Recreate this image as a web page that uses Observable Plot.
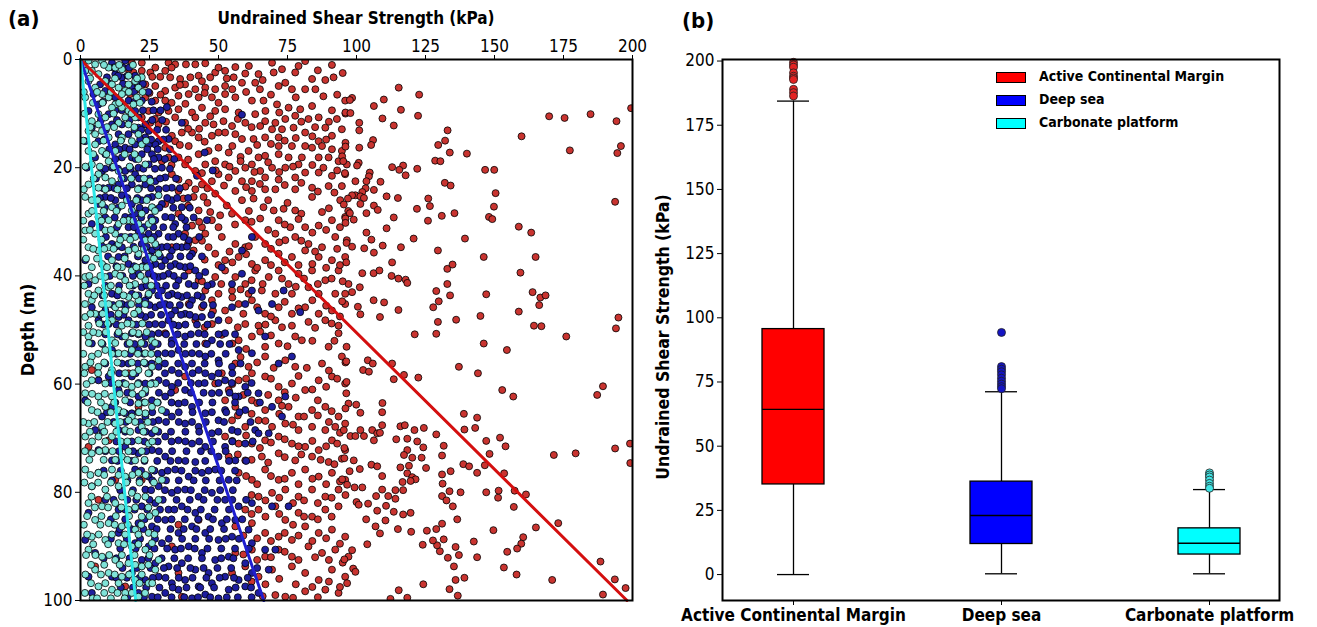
<!DOCTYPE html>
<html>
<head>
<meta charset="utf-8">
<script src="https://cdn.jsdelivr.net/npm/d3@7"></script>
<script src="https://cdn.jsdelivr.net/npm/@observablehq/plot@0.6"></script>
<style>
  body { margin:0; width:1317px; height:627px; position:relative; background:#fff; overflow:hidden;
         font-family:"DejaVu Sans Condensed","DejaVu Sans",sans-serif; color:#000; }
  .lbl { position:absolute; white-space:nowrap; font-weight:bold; }
  .sw { position:absolute; width:30px; height:11px; border:1px solid #000; box-sizing:border-box; }
</style>
</head>
<body>
<div id="pa" style="position:absolute;left:0;top:0"></div>
<div id="pb" style="position:absolute;left:640px;top:0"></div>

<div class="lbl" style="left:8px;top:6px;font-size:22px">(a)</div>
<div class="lbl" style="left:356px;top:8px;font-size:17px;transform:translateX(-50%)">Undrained Shear Strength (kPa)</div>
<div class="lbl" style="left:27px;top:330px;font-size:18px;transform:translate(-50%,-50%) rotate(-90deg)">Depth (m)</div>
<div class="lbl" style="left:682px;top:8px;font-size:22px">(b)</div>
<div class="lbl" style="left:663px;top:337px;font-size:17.5px;transform:translate(-50%,-50%) rotate(-90deg)">Undrained Shear Strength (kPa)</div>

<div class="sw" style="left:996px;top:72px;background:#ff0000"></div>
<div class="lbl" style="left:1039px;top:68px;font-size:14px">Active Continental Margin</div>
<div class="sw" style="left:996px;top:95px;background:#0000ff"></div>
<div class="lbl" style="left:1039px;top:91px;font-size:14px">Deep sea</div>
<div class="sw" style="left:996px;top:118px;background:#00ffff"></div>
<div class="lbl" style="left:1039px;top:114px;font-size:14px">Carbonate platform</div>

<script>
// ---------- Panel (a): [undrained shear strength kPa, depth m] ----------
const acmPoints = [
[31.9,0.6],[34.3,0.9],[38.2,0.9],[41.6,0.9],[45.2,0.7],[56.1,1.4],[69.4,0.6],[81.4,0.3],[91.1,1.0],[77.8,2.4],[70.0,2.4],[64.5,2.7],[59.7,2.6],[55.5,3.3],[52.4,2.1],[48.8,2.4],[47.0,3.3],[42.8,3.0],[39.8,3.3],[36.1,3.6],[32.5,3.3],[28.9,3.2],[25.3,2.4],[22.2,2.1],[19.2,2.4],[17.4,1.8],[18.6,0.6],[22.2,0.6],[27.1,1.5],[30.7,2.1],[74.2,4.3],[83.9,3.6],[88.7,3.8],[91.7,3.3],[85.1,5.5],[81.4,5.5],[76.6,5.5],[71.8,4.9],[63.3,4.3],[58.5,4.3],[52.4,4.9],[48.8,5.5],[45.2,5.2],[41.6,5.5],[37.9,4.6],[34.3,5.2],[30.7,5.8],[27.1,4.9],[23.5,4.6],[21.0,5.5],[18.0,6.4],[23.5,7.0],[27.1,7.6],[30.7,7.6],[35.5,6.7],[39.2,6.4],[42.8,7.0],[47.6,7.0],[52.4,6.4],[56.1,7.0],[62.1,7.6],[66.3,7.6],[71.2,8.3],[75.4,8.9],[79.6,9.2],[83.9,8.6],[91.1,9.4],[95.9,7.6],[86.3,10.7],[82.6,11.0],[77.8,10.4],[74.2,11.0],[70.6,11.7],[66.9,11.4],[63.3,10.1],[57.3,9.8],[52.4,9.2],[48.8,9.5],[44.0,8.9],[40.4,9.8],[35.5,9.2],[31.9,9.5],[28.3,9.8],[24.7,9.5],[22.2,10.7],[25.3,11.7],[28.3,12.0],[34.3,10.7],[37.9,11.7],[41.6,10.7],[45.2,11.7],[48.2,12.0],[51.8,11.4],[54.9,12.3],[59.7,11.7],[65.1,12.3],[69.4,12.9],[73.0,12.9],[77.2,12.6],[81.4,13.5],[88.7,12.6],[92.9,11.0],[94.7,12.9],[91.1,14.1],[86.3,15.1],[83.9,16.3],[81.4,16.0],[76.6,16.0],[71.8,16.0],[71.8,14.4],[66.9,14.4],[62.7,14.7],[58.5,14.7],[56.1,13.8],[52.4,13.5],[47.6,14.1],[42.8,14.4],[40.4,13.5],[36.7,13.5],[33.1,14.1],[30.7,16.3],[34.3,15.1],[39.2,16.0],[42.8,17.5],[46.4,16.9],[50.0,16.3],[53.7,17.2],[60.9,16.9],[64.5,18.1],[62.1,19.4],[66.9,17.8],[71.8,17.5],[75.4,18.1],[80.2,18.1],[86.3,18.1],[89.9,18.1],[93.5,18.8],[96.5,19.4],[94.7,16.9],[91.1,16.6],[87.5,16.0],[79.0,19.4],[74.2,20.0],[69.4,20.0],[65.1,20.6],[59.7,20.0],[56.1,20.6],[52.4,19.4],[48.8,18.8],[45.2,19.4],[41.6,20.6],[37.9,19.4],[35.5,18.1],[31.9,18.1],[29.5,18.8],[81.4,20.9],[86.3,20.9],[91.1,21.5],[95.9,21.2],[77.8,21.8],[71.8,22.2],[66.9,21.8],[62.1,22.5],[58.5,22.5],[53.7,21.8],[50.0,21.2],[47.6,22.5],[44.0,23.1],[39.2,22.8],[35.5,22.2],[33.1,21.2],[70.6,24.0],[66.9,24.0],[62.1,24.3],[77.8,24.0],[83.9,23.7],[89.9,23.4],[94.7,23.4],[41.6,24.0],[35.5,24.3],[56.1,24.3],
[20,4],[26,3.2],[33,1.5],[36,4.7],[44,4],[50,1.5],[53,3.5],[61,1.2],[66,3.8],[73,1.8],[79,1.2],[86,2],[95,2.5],[25,6.2],[29,6.5],[33,8],[38,8.2],[45,6.2],[50,8],[55,5.5],[60,6],[65,5.5],[69,6.5],[78,7],[88,6.8],[93,6.5],[27,11],[31,11.5],[39,12.8],[43,12.8],[47,10.5],[50,13.5],[57,11],[62,12.5],[67,9.5],[72,9.8],[80,11.5],[85,12.5],[90,11.5],[96,10],[36,15.8],[45,15.2],[55,16],[58,18],[64,15.8],[69,15.6],[74,15],[78,14.5],[84,14.2],[89,14.8],[96,15.4],[33,19.5],[39,18.5],[44,21],[49,20.5],[54,19.8],[58,18.8],[63,20.8],[68,19],[72,20.8],[77,19.8],[84,19.5],[88,20],[93,20.5],[38,23.5],[46,23.8],[52,23.3],[60,23.6],[65,23],[74,23.2],[80,22.8],[86,24.4],[92,24.6],
[37.3,25.7],[41.0,25.4],[44.6,25.4],[48.8,24.8],[58.5,26.0],[62.7,25.7],[66.3,27.3],[70.0,27.9],[73.6,27.6],[77.8,27.9],[83.9,25.4],[87.5,28.2],[94.1,26.0],[42.8,27.9],[47.0,28.2],[50.6,28.8],[54.9,28.5],[59.7,29.7],[65.1,29.4],[71.8,29.7],[76.0,31.0],[81.4,31.0],[86.3,30.7],[91.1,29.7],[95.9,29.1],[40.4,30.7],[44.0,31.0],[47.6,29.7],[37.9,32.2],[41.6,33.4],[45.2,32.2],[51.2,32.8],[56.1,34.1],[59.7,34.7],[63.3,32.8],[66.9,34.1],[70.6,32.2],[74.2,33.4],[77.8,32.8],[82.6,34.1],[87.5,34.7],[92.3,32.8],[96.5,33.4],[48.8,35.9],[52.4,37.1],[57.3,36.5],[62.1,37.8],[66.9,37.1],[71.8,35.9],[76.6,36.5],[81.4,35.3],[86.3,36.5],[91.1,37.1],[95.9,36.5],[41.0,35.3],[46.4,34.7],[39.2,39.0],[42.8,40.8],[45.2,42.7],[48.8,40.2],[52.4,39.0],[56.1,40.2],[59.7,41.5],[63.3,39.0],[68.2,40.2],[71.8,39.0],[75.4,41.5],[79.0,39.6],[83.9,39.0],[88.7,40.8],[93.5,39.0],[97.1,41.5],[50.0,43.3],[54.9,42.7],[60.9,43.3],[65.7,42.7],[70.6,43.3],[76.6,43.3],[82.6,42.1],[86.3,43.3],[92.3,43.3],[95.9,43.3],[39.2,45.2],[44.0,45.8],[47.6,44.5],[52.4,46.4],[57.3,45.2],[62.1,44.5],[66.9,47.0],[71.8,45.8],[76.6,47.0],[81.4,45.8],[86.3,47.0],[91.1,46.4],[95.9,45.2],[41.6,48.2],[47.6,48.9],[53.7,48.2],[59.7,48.9],[64.5,49.2],[70.6,48.2],[76.6,49.2],[82.6,48.5],[88.7,48.2],[93.5,49.2],[30.7,26.7],[35.5,28.5],[33.1,34.7],
[39,27],[46,26.5],[53,27],[61,28],[68,26],[75,26.5],[80,28.5],[90,27.5],[97,28],[43,30],[50,31],[56,30.5],[62,30],[68,31.5],[74,30.5],[79,29.5],[84,32],[89,31.5],[94,31],[39,34],[44,33.5],[54,35.5],[61,34.5],[69,35],[72,33.8],[80,33.5],[85,35.5],[93,35],[45,37],[50,38],[55,37.5],[60,36],[64,38.5],[69,38],[74,37.5],[79,38],[84,37.8],[89,38.5],[94,38],[44,41],[51,41.5],[58,42.5],[62,40.8],[66,41.5],[73,40.5],[78,42],[81,40.5],[86,41.5],[91,40.5],[95,41],[48,46.5],[55,44],[59,47],[64,45.8],[69,47.5],[74,44.8],[79,46],[84,44.5],[89,45.5],[94,47.5],[45,49.5],[57,49.5],[67,49],[73,49.5],[85,49.6],[91,48.8],
[51.2,50.9],[57.3,51.9],[62.1,51.2],[65.1,50.3],[66.9,53.1],[71.8,52.5],[77.8,51.2],[80.2,51.9],[89.9,53.1],[93.5,50.6],[94.7,54.9],[87.5,56.2],[77.8,56.8],[74.2,55.6],[66.9,54.9],[60.9,56.8],[56.1,56.2],[51.2,58.0],[48.8,59.9],[53.7,61.1],[57.3,59.3],[62.1,58.0],[66.9,58.6],[71.8,60.5],[76.6,59.9],[81.4,61.1],[86.3,59.3],[91.1,58.6],[95.9,59.9],[52.4,63.0],[56.1,64.2],[62.1,63.0],[66.9,64.8],[71.8,63.0],[75.4,64.2],[79.0,66.0],[83.9,64.8],[88.7,64.2],[93.5,66.0],[97.1,63.6],[54.9,66.7],[59.7,67.9],[64.5,66.7],[69.4,67.9],[74.2,67.3],[79.0,68.5],[83.9,67.9],[88.7,68.5],[92.3,67.9],[95.9,67.3],[52.4,69.7],[57.3,71.0],[62.1,71.0],[66.9,70.4],[71.8,69.7],[76.6,71.0],[81.4,71.6],[86.3,72.2],[91.1,70.4],[95.9,72.2],[53.7,73.4],[59.7,74.1],[65.7,73.4],[71.8,72.8],[77.8,74.1],[83.9,73.4],[89.9,74.4],[94.7,73.8],[37.9,58.6],[34.3,61.1],[45.2,52.5],[30.7,50.6],[4.1,57.4],[2.9,71.6],[10.2,70.4],[21.0,64.2],[17.4,58.0],
[55,52.5],[60,53.5],[69,51],[75,53],[84,52],[92,52],[58,55],[64,56],[70,57],[82,57],[90,57.5],[96,56],[55,60],[60,59],[69,59],[74,61.5],[79,58.5],[84,61],[89,60.5],[93,59],[59,62],[64,63.5],[68,62],[73,64],[78,62.5],[86,63],[91,65],[96,64.5],[57,65.8],[62,65.5],[67,66.8],[72,65.5],[77,67.5],[81,66],[86,65.8],[90,67],[94,69],[55,70.5],[60,69.5],[65,71.8],[69,70.8],[74,70.2],[79,71.5],[84,70.5],[89,71.5],[93,71],[57,73],[62,74],[68,74.5],[74,73.5],[80,73],[87,74],[92,74.8],
[57.3,76.4],[62.1,77.7],[66.9,75.8],[71.8,77.7],[76.6,76.4],[81.4,75.8],[86.3,77.1],[91.1,76.4],[95.9,77.7],[64.5,80.8],[69.4,80.1],[74.2,79.5],[79.0,80.8],[83.9,79.5],[88.7,80.8],[93.5,79.5],[59.7,83.2],[64.5,83.2],[70.6,82.6],[74.2,85.1],[79.0,83.8],[83.9,84.5],[88.7,83.2],[93.5,82.6],[56.1,86.3],[62.1,85.7],[66.9,87.5],[71.8,88.2],[76.6,88.8],[81.4,86.3],[86.3,87.5],[91.1,86.9],[95.9,88.2],[56.1,91.2],[62.1,90.6],[66.9,91.9],[71.8,90.6],[76.6,91.9],[82.6,90.0],[87.5,91.2],[92.3,90.6],[97.1,91.9],[54.9,94.9],[59.7,93.7],[64.5,95.6],[69.4,94.3],[76.6,93.7],[81.4,94.9],[86.3,96.2],[91.1,94.3],[95.9,95.6],[70.6,99.0],[74.2,99.3],[81.4,98.3],[88.7,98.0],[93.5,98.6],[35.5,86.0],[33.1,90.0],[35.5,94.9],[42.8,85.1],[36.7,99.3],[22.2,77.7],[12.6,77.7],[5.3,93.7],[16.2,97.4],[6.5,81.4],
[60,77],[64,78.5],[69,77],[74,77.5],[79,78.5],[84,77.5],[89,78.5],[94,78],[62,80.5],[67,81.5],[72,81],[77,82],[81,81.5],[86,82],[91,81],[96,80.5],[62,84],[67,84.5],[72,84],[77,86],[81,84.5],[86,85],[91,84.5],[59,88],[64,88.5],[69,89],[74,87.5],[79,88],[84,89],[89,88.5],[94,89.5],[59,91.5],[64,92.5],[69,92],[74,91],[79,92.5],[85,92],[90,92.5],[95,93],[62,96.5],[67,97],[72,96],[78,97],[84,97.5],[90,96.5],[94,97.5],[66,99.2],[77,99.5],[86,99.4],
[115.3,5.2],[122.7,6.5],[98.4,7.1],[97.6,7.5],[109.9,7.4],[106.3,8.6],[116.1,9.3],[96.0,9.8],[97.8,9.9],[122.3,10.4],[109.4,10.9],[101.0,11.7],[113.5,12.2],[101.0,13.1],[169.8,10.5],[175.4,10.8],[184.8,10.1],[194.2,11.4],[199.5,9.0],[159.8,14.2],[133.0,13.1],[106.0,14.9],[132.1,15.0],[105.3,15.8],[96.0,16.1],[101.0,16.3],[129.6,15.8],[177.3,16.8],[195.8,16.0],[194.5,17.3],[133.8,17.2],[140.0,17.4],[128.5,18.7],[130.4,18.8],[94.8,17.9],[95.2,18.8],[100.8,19.1],[100.2,19.6],[112.9,19.9],[116.9,19.6],[115.5,20.4],[122.0,20.2],[117.8,21.4],[146.6,20.4],[149.9,20.4],[95.8,21.0],[104.8,20.9],[104.5,21.6],[103.6,22.5],[99.6,22.5],[108.7,22.6],[132.0,22.8],[134.1,23.3],[150.4,24.7],[193.7,26.3],[106.3,24.1],[103.3,23.8],[102.1,24.5],[99.6,25.1],[98.4,25.1],[96.9,25.7],[101.4,25.3],[102.7,25.6],[110.9,25.3],[115.0,25.6],[126.0,25.7],[126.6,27.1],[95.4,26.8],[106.3,27.0],[107.7,27.8],[101.4,26.7],[149.8,27.2],[121.9,27.6],[148.0,29.1],[149.2,29.5],[103.6,28.4],[97.6,28.4],[99.0,29.6],[96.0,29.4],[96.0,30.2],[113.5,29.2],[125.9,29.8],[130.9,28.9],[135.5,28.4],[158.8,30.9],[163.3,32.0],[110.9,31.2],[103.6,32.0],[105.4,33.3],[120.7,33.1],[139.3,33.1],[96.4,33.9],[98.4,34.6],[102.8,34.9],[106.3,35.7],[109.5,34.4],[116.1,34.7],[129.5,35.3],[146.1,36.5],[164.9,36.5],[96.3,37.5],[112.9,37.5],[102.1,39.5],[106.2,39.5],[108.3,39.0],[112.7,40.0],[115.2,40.5],[117.8,40.7],[118.4,41.3],[132.9,38.7],[134.8,37.9],[159.4,39.4],[132.9,41.5],[133.9,43.6],[147.0,43.4],[163.8,43.0],[166.6,44.0],[168.5,43.6],[166.2,45.4],[98.4,43.0],[101.2,42.1],[94.8,44.7],[106.2,44.5],[110.0,44.9],[100.5,45.7],[101.4,47.1],[108.5,47.6],[115.2,46.3],[127.8,45.8],[129.8,44.7],[128.9,42.8],[129.5,48.5],[136.1,48.1],[144.9,47.4],[158.8,46.6],[194.9,47.7],[164.3,49.2],[167.0,49.3],[194.0,49.7],
[121.1,50.8],[128.9,50.7],[146.1,52.5],[154.5,53.7],[176.0,51.2],[96.4,53.1],[96.3,55.8],[104.1,55.6],[105.9,56.2],[102.4,57.4],[104.5,57.7],[112.9,56.2],[113.5,59.1],[117.2,58.3],[122.4,58.8],[137.1,56.8],[144.0,58.0],[152.8,61.1],[156.8,62.3],[187.2,62.0],[189.3,60.4],[96.4,59.6],[96.3,61.7],[99.9,63.8],[101.4,65.3],[109.4,63.5],[109.3,65.2],[95.4,68.5],[97.8,69.6],[99.6,69.6],[101.4,68.5],[102.7,69.6],[105.7,68.5],[107.5,69.1],[106.3,70.4],[108.5,69.0],[109.3,67.6],[115.9,67.8],[117.5,67.6],[114.4,70.2],[118.4,70.1],[121.0,68.5],[124.4,68.1],[128.9,69.3],[122.0,70.6],[124.2,71.7],[118.4,72.2],[117.2,73.1],[120.2,73.6],[123.6,73.6],[125.2,75.5],[119.0,75.1],[115.9,75.4],[118.4,76.5],[120.2,77.2],[121.4,77.6],[119.6,77.9],[116.7,78.1],[131.6,71.4],[131.0,73.2],[131.0,76.7],[134.1,76.1],[131.2,78.4],[133.7,79.8],[131.0,80.7],[132.6,81.5],[134.9,82.6],[137.7,80.0],[138.9,65.5],[143.7,66.2],[139.1,68.4],[143.0,68.1],[147.0,70.5],[152.0,69.9],[154.0,71.5],[148.2,72.9],[138.7,74.8],[140.8,75.2],[143.7,76.4],[146.5,75.0],[147.0,80.0],[151.5,79.7],[151.3,81.0],[153.5,76.5],[157.3,79.7],[161.4,80.4],[157.0,82.7],[171.5,73.1],[179.4,72.8],[193.7,71.9],[199.1,71.0],[199.2,74.6],[95.6,71.8],[95.6,73.7],[99.0,74.1],[101.2,75.7],[97.5,76.1],[105.4,74.9],[107.5,75.2],[109.3,77.0],[94.8,77.6],[96.6,78.6],[99.3,79.1],[102.1,79.1],[107.1,80.7],[109.3,79.5],[111.5,80.7],[114.1,79.6],[116.9,79.6],[114.1,81.2],[110.7,82.5],[107.5,83.4],[113.5,83.6],[116.9,84.1],[119.6,83.8],[100.0,81.8],[100.8,82.3],[104.2,82.1],[103.5,85.0],[106.9,86.3],[108.5,87.6],[110.5,85.2],[115.0,86.8],[119.8,87.3],[125.5,87.1],[128.9,86.8],[131.0,85.8],[136.5,85.0],[149.6,87.0],[165.0,86.5],[173.1,85.7],[160.4,88.3],[159.7,89.5],[158.2,90.4],[154.6,91.0],[142.5,89.1],[143.7,92.0],[137.1,91.6],[135.9,90.1],[133.1,92.1],[135.3,93.7],[130.2,90.9],[129.2,89.8],[127.7,88.9],[124.0,89.7],[131.6,88.7],[103.9,89.6],[98.4,90.7],[95.6,92.4],[98.8,94.1],[99.6,94.7],[96.6,96.8],[115.3,98.1],[118.4,99.5],[112.3,99.7],[124.2,97.0],[133.7,97.9],[135.9,96.2],[139.1,95.8],[136.7,99.1],[153.4,93.9],[158.0,95.2],[170.9,96.2],[188.4,92.8],[193.6,96.1],[197.5,97.7],[189.3,98.9]
];
const deepSeaPoints = [
[31.3,8.8],[36.7,11.7],[58.5,10.2],[45.0,17.2],[47.9,20.5],[42.2,21.5],[31.9,14.7],[28.3,15.1],[11.4,0.6],[13.8,1.2],[16.2,0.2],[15.0,3.3],[18.6,5.2],[17.4,7.6],[19.8,9.5],[21.0,12.6],[23.5,14.4],[25.9,17.5],[29.5,20.0],[27.1,22.5],[23.5,23.1],[21.0,20.0],[18.6,18.1],[16.2,16.3],[13.8,13.8],[11.4,12.0],[10.2,10.1],[6.5,8.3],[9.0,5.8],[12.6,7.0],[15.0,12.0],[17.4,13.8],[19.8,15.7],[22.2,17.5],[24.7,19.4],[28.3,18.1],[30.7,21.8],[33.1,23.7],[13.8,23.1],[11.4,20.0],[9.0,17.5],[6.5,15.1],[4.1,12.6],[5.3,18.1],[7.8,20.6],[10.2,23.7],[16.2,20.6],[18.6,23.1],[24.7,13.2],[27.1,15.7],[23.5,12.0],[21.0,10.7],[12.6,2.7],[9.6,3.3],[7.1,4.6],[4.7,6.4],[2.9,9.5],[1.7,15.1],[2.3,20.0],[22.2,7.6],[24.7,15.7],[19.8,21.2],[28.3,24.0],[15.0,18.1],[12.6,15.7],
[12.0,1.5],[15.4,1.5],[17.6,1.5],[13.6,3.0],[17.0,3.0],[19.8,3.0],[10.6,4.5],[15.4,4.5],[20.8,4.5],[22.6,4.5],[11.0,6.0],[16.0,6.0],[19.4,6.0],[24.6,6.0],[8.2,7.8],[14.4,7.8],[19.6,7.8],[25.8,7.8],[12.6,9.4],[15.0,9.4],[22.6,9.4],[26.4,9.4],[29.0,9.4],[7.4,11.2],[13.2,11.2],[17.8,11.2],[26.0,11.2],[29.6,11.2],[9.2,13.0],[19.6,13.0],[22.0,13.0],[27.8,13.0],[31.0,13.0],[8.6,14.8],[14.8,14.8],[21.6,14.8],[25.6,14.8],[30.0,14.8],[10.4,16.6],[14.0,16.6],[17.8,16.6],[24.2,16.6],[28.0,16.6],[32.4,16.6],[12.6,18.4],[20.0,18.4],[26.6,18.4],[30.6,18.4],[34.0,18.4],[9.0,20.2],[13.6,20.2],[18.2,20.2],[22.8,20.2],[27.0,20.2],[32.4,20.2],[5.6,22.0],[15.8,22.0],[21.2,22.0],[25.0,22.0],[28.8,22.0],[34.6,22.0],[8.2,23.8],[12.4,23.8],[16.8,23.8],[21.2,23.8],[25.6,23.8],[31.0,23.8],[36.0,23.8],
[9.0,25.4],[12.6,26.0],[15.0,25.1],[18.6,26.7],[22.2,26.0],[25.9,25.4],[29.5,26.7],[33.1,26.0],[36.7,27.3],[23.5,27.9],[19.8,28.5],[16.2,29.1],[27.1,29.7],[30.7,29.1],[34.3,30.4],[37.9,29.7],[17.4,31.0],[21.0,31.6],[24.7,32.2],[28.3,32.2],[31.9,32.8],[35.5,32.2],[39.2,33.4],[22.2,34.1],[25.9,35.3],[29.5,34.7],[33.1,35.3],[36.7,34.7],[40.4,35.9],[23.5,37.1],[27.1,37.8],[30.7,37.1],[34.3,37.8],[37.9,38.4],[41.6,39.0],[24.7,39.6],[28.3,40.2],[31.9,39.6],[35.5,40.8],[39.2,41.5],[22.2,42.1],[25.9,42.7],[29.5,42.7],[33.1,43.3],[36.7,43.9],[40.4,44.5],[23.5,44.5],[27.1,45.8],[30.7,45.2],[34.3,46.4],[37.9,47.0],[41.6,47.6],[19.8,47.0],[23.5,47.6],[27.1,48.9],[31.9,48.2],[35.5,49.2],[6.5,48.2],[10.2,48.9],[13.8,47.6],[17.4,48.2],[4.1,45.8],[9.0,46.4],[15.0,45.2],[18.6,43.3],[11.4,43.3],[21.0,39.6],[17.4,37.8],[13.8,36.5],[11.4,34.1],[15.0,34.7],[45.8,29.7],[62.1,32.8],[58.5,35.3],[54.9,41.5],[58.5,39.6],[64.5,46.4],[69.4,45.2],[73.6,42.7],[79.6,46.7],[45.2,39.3],[47.6,41.5],[51.2,38.4],[62.1,42.7],[44.0,43.9],[50.0,48.2],[54.9,45.8],[59.7,45.2],[44.0,47.6],[6.5,26.7],[4.1,30.4],[1.7,37.1],[2.9,41.5],
[7.0,25.6],[11.0,25.6],[17.0,25.6],[20.6,25.6],[24.4,25.6],[31.4,25.6],[35.0,25.6],[39.0,25.6],[8.8,27.4],[13.6,27.4],[21.4,27.4],[26.0,27.4],[28.6,27.4],[33.6,27.4],[39.6,27.4],[9.0,29.2],[12.4,29.2],[18.2,29.2],[22.0,29.2],[25.6,29.2],[33.0,29.2],[36.6,29.2],[41.0,29.2],[7.2,31.0],[13.2,31.0],[19.4,31.0],[23.0,31.0],[26.4,31.0],[30.0,31.0],[33.6,31.0],[38.4,31.0],[9.2,32.8],[14.8,32.8],[18.2,32.8],[22.6,32.8],[26.6,32.8],[33.6,32.8],[37.4,32.8],[43.0,32.8],[8.0,34.6],[12.8,34.6],[19.2,34.6],[24.0,34.6],[27.6,34.6],[31.4,34.6],[34.8,34.6],[38.6,34.6],[10.0,36.4],[16.0,36.4],[20.8,36.4],[25.4,36.4],[28.8,36.4],[32.4,36.4],[36.2,36.4],[39.6,36.4],[44.0,36.4],[8.6,38.2],[13.0,38.2],[19.4,38.2],[22.6,38.2],[25.4,38.2],[29.4,38.2],[32.6,38.2],[36.0,38.2],[39.8,38.2],[10.6,40.0],[15.2,40.0],[19.0,40.0],[26.6,40.0],[30.0,40.0],[33.8,40.0],[37.6,40.0],[43.0,40.0],[9.0,41.8],[14.0,41.8],[19.0,41.8],[24.0,41.8],[27.6,41.8],[31.0,41.8],[34.6,41.8],[41.4,41.8],[46.0,41.8],[8.0,43.6],[13.4,43.6],[21.0,43.6],[24.6,43.6],[28.2,43.6],[31.8,43.6],[35.2,43.6],[38.6,43.6],[42.4,43.6],[11.8,45.4],[17.0,45.4],[21.2,45.4],[25.0,45.4],[28.8,45.4],[32.4,45.4],[36.0,45.4],[39.6,45.4],[44.6,45.4],[48.0,45.4],[7.0,47.2],[11.0,47.2],[15.6,47.2],[21.8,47.2],[25.6,47.2],[29.2,47.2],[32.8,47.2],[36.4,47.2],[39.6,47.2],[47.4,47.2],[8.2,49.0],[13.0,49.0],[20.2,49.0],[24.8,49.0],[29.6,49.0],[33.6,49.0],[38.0,49.0],[42.2,49.0],[46.0,49.0],
[18.6,50.6],[23.5,51.2],[28.3,50.6],[33.1,51.9],[37.9,51.2],[42.8,50.6],[47.6,51.9],[52.4,50.6],[57.3,53.7],[62.1,54.3],[66.9,51.2],[71.8,56.2],[76.6,54.9],[21.0,53.7],[25.9,53.1],[30.7,54.3],[35.5,53.7],[40.4,54.3],[45.2,54.9],[50.0,55.6],[54.9,56.8],[59.7,60.5],[64.5,61.7],[69.4,64.2],[74.2,62.3],[23.5,56.2],[28.3,56.8],[33.1,57.4],[37.9,56.8],[42.8,57.4],[47.6,58.6],[52.4,59.3],[57.3,62.3],[18.6,58.6],[23.5,59.9],[28.3,59.3],[33.1,60.5],[37.9,61.1],[42.8,59.9],[47.6,61.7],[52.4,64.8],[56.1,62.3],[21.0,62.3],[25.9,63.0],[30.7,62.3],[35.5,63.6],[40.4,64.2],[45.2,65.4],[50.0,66.7],[54.9,68.5],[59.7,64.8],[63.3,68.5],[68.2,69.1],[73.0,66.0],[18.6,65.4],[23.5,66.0],[28.3,66.7],[33.1,66.0],[37.9,67.3],[42.8,67.9],[47.6,69.1],[52.4,71.6],[59.7,71.0],[64.5,69.1],[21.0,68.5],[25.9,69.1],[30.7,69.7],[35.5,70.4],[40.4,71.0],[45.2,71.6],[50.0,73.4],[56.1,74.1],[16.2,71.6],[21.0,72.8],[25.9,72.2],[30.7,73.4],[35.5,74.1],[41.6,74.4],[11.4,74.1],[6.5,72.2],[1.7,63.0],[7.8,66.0],[11.4,64.2],[13.8,61.1],[10.2,58.6],[15.0,56.2],[11.4,53.7],[4.1,52.5],[6.5,59.3],[5.3,68.5],[13.8,68.5],[16.2,65.4],[15.0,51.2],
[9.0,50.8],[13.4,50.8],[21.0,50.8],[25.8,50.8],[31.0,50.8],[35.2,50.8],[40.0,50.8],[45.0,50.8],[50.0,50.8],[56.0,50.8],[8.0,52.6],[17.0,52.6],[19.6,52.6],[23.2,52.6],[28.0,52.6],[33.0,52.6],[37.6,52.6],[42.0,52.6],[45.8,52.6],[50.6,52.6],[54.0,52.6],[13.0,54.4],[18.0,54.4],[23.0,54.4],[28.0,54.4],[33.0,54.4],[38.0,54.4],[43.0,54.4],[47.4,54.4],[52.6,54.4],[9.0,56.2],[17.4,56.2],[20.8,56.2],[25.8,56.2],[30.6,56.2],[35.4,56.2],[40.4,56.2],[45.0,56.2],[50.2,56.2],[58.0,56.2],[14.0,58.0],[20.0,58.0],[25.0,58.0],[30.6,58.0],[35.6,58.0],[40.6,58.0],[45.2,58.0],[50.0,58.0],[55.0,58.0],[11.0,59.8],[15.6,59.8],[21.0,59.8],[26.0,59.8],[31.0,59.8],[35.4,59.8],[40.0,59.8],[45.0,59.8],[50.0,59.8],[54.8,59.8],[62.0,59.8],[17.0,61.6],[23.4,61.6],[28.4,61.6],[32.8,61.6],[40.0,61.6],[44.6,61.6],[50.2,61.6],[54.0,61.6],[60.6,61.6],[12.6,63.4],[18.0,63.4],[23.0,63.4],[28.0,63.4],[33.0,63.4],[37.8,63.4],[43.0,63.4],[47.8,63.4],[56.0,63.4],[65.0,63.4],[9.6,65.2],[14.0,65.2],[21.0,65.2],[26.0,65.2],[31.0,65.2],[35.6,65.2],[40.6,65.2],[47.6,65.2],[52.8,65.2],[57.6,65.2],[12.0,67.0],[16.4,67.0],[21.6,67.0],[26.2,67.0],[31.0,67.0],[35.6,67.0],[40.4,67.0],[45.4,67.0],[52.0,67.0],[61.6,67.0],[8.0,68.8],[16.2,68.8],[23.6,68.8],[28.2,68.8],[32.8,68.8],[38.0,68.8],[43.0,68.8],[50.0,68.8],[57.0,68.8],[13.0,70.6],[18.6,70.6],[23.2,70.6],[28.0,70.6],[33.0,70.6],[38.0,70.6],[43.0,70.6],[48.0,70.6],[55.0,70.6],[62.4,70.6],[9.0,72.4],[14.0,72.4],[19.0,72.4],[23.8,72.4],[28.4,72.4],[33.2,72.4],[38.4,72.4],[43.6,72.4],[47.4,72.4],[52.6,72.4],[13.4,74.2],[18.4,74.2],[23.2,74.2],[27.8,74.2],[32.6,74.2],[38.0,74.2],[45.2,74.2],[53.8,74.2],[60.0,74.2],
[19.8,75.8],[24.7,77.1],[29.5,76.4],[34.3,75.8],[39.2,77.1],[44.0,76.4],[48.8,75.8],[53.7,77.7],[23.5,79.5],[28.3,78.9],[33.1,80.1],[37.9,79.5],[42.8,80.8],[47.6,80.1],[52.4,81.4],[57.3,82.6],[62.1,82.0],[69.4,82.6],[75.4,82.6],[22.2,82.6],[27.1,82.0],[31.9,83.2],[36.7,82.6],[41.6,83.8],[46.4,84.5],[51.2,85.7],[56.1,85.1],[60.9,86.9],[21.0,85.7],[25.9,86.3],[30.7,85.1],[35.5,87.5],[40.4,86.3],[45.2,87.5],[50.0,88.8],[54.9,88.2],[62.1,89.4],[66.9,90.6],[70.6,90.6],[19.8,89.4],[24.7,90.0],[29.5,89.4],[34.3,90.6],[39.2,90.0],[44.0,91.2],[48.8,92.5],[53.7,91.9],[59.7,93.1],[22.2,92.5],[27.1,93.1],[31.9,93.7],[36.7,93.1],[41.6,94.3],[46.4,94.9],[52.4,95.6],[57.3,96.2],[62.1,94.9],[68.2,94.3],[18.6,94.9],[23.5,96.2],[28.3,95.6],[33.1,96.8],[37.9,96.2],[42.8,97.4],[47.6,96.8],[53.7,98.0],[59.7,97.4],[64.5,98.6],[21.0,98.6],[25.9,99.3],[30.7,98.6],[35.5,98.0],[40.4,99.6],[45.2,98.9],[50.0,99.6],[4.1,78.9],[2.9,83.8],[1.7,88.8],[5.3,91.2],[2.9,95.6],[4.1,98.6],[11.4,95.6],[13.8,87.5],[9.0,81.4],[6.5,76.4],[16.2,83.2],
[8.4,76.0],[14.6,76.0],[22.0,76.0],[26.8,76.0],[31.6,76.0],[36.6,76.0],[41.6,76.0],[46.4,76.0],[51.0,76.0],[56.0,76.0],[11.4,77.8],[17.0,77.8],[21.4,77.8],[26.0,77.8],[31.0,77.8],[35.6,77.8],[41.0,77.8],[45.4,77.8],[50.4,77.8],[56.6,77.8],[14.4,79.6],[19.0,79.6],[25.6,79.6],[30.6,79.6],[35.2,79.6],[40.0,79.6],[45.0,79.6],[50.6,79.6],[55.2,79.6],[12.0,81.4],[17.0,81.4],[20.2,81.4],[25.0,81.4],[29.8,81.4],[34.8,81.4],[39.6,81.4],[44.6,81.4],[49.6,81.4],[55.0,81.4],[60.0,81.4],[13.8,83.2],[19.6,83.2],[24.2,83.2],[28.8,83.2],[34.0,83.2],[38.8,83.2],[43.6,83.2],[48.6,83.2],[53.8,83.2],[11.0,85.0],[16.2,85.0],[23.2,85.0],[28.0,85.0],[33.0,85.0],[37.8,85.0],[42.6,85.0],[48.0,85.0],[53.0,85.0],[58.6,85.0],[14.2,86.8],[18.4,86.8],[22.8,86.8],[27.6,86.8],[32.6,86.8],[37.4,86.8],[42.0,86.8],[47.0,86.8],[52.0,86.8],[11.0,88.6],[16.8,88.6],[21.6,88.6],[27.0,88.6],[32.0,88.6],[36.8,88.6],[41.6,88.6],[46.6,88.6],[52.6,88.6],[57.4,88.6],[14.4,90.4],[20.0,90.4],[26.8,90.4],[31.4,90.4],[36.4,90.4],[41.4,90.4],[46.0,90.4],[51.0,90.4],[56.0,90.4],[61.0,90.4],[8.4,92.2],[13.0,92.2],[17.8,92.2],[24.6,92.2],[29.4,92.2],[34.0,92.2],[39.0,92.2],[44.0,92.2],[51.0,92.2],[55.4,92.2],[15.2,94.0],[20.4,94.0],[25.4,94.0],[30.2,94.0],[35.0,94.0],[39.8,94.0],[44.6,94.0],[49.6,94.0],[54.6,94.0],[64.0,94.0],[13.0,95.8],[16.8,95.8],[21.4,95.8],[26.2,95.8],[30.8,95.8],[35.6,95.8],[40.6,95.8],[45.6,95.8],[50.4,95.8],[55.6,95.8],[60.6,95.8],[14.6,97.6],[19.0,97.6],[23.8,97.6],[28.6,97.6],[33.4,97.6],[38.4,97.6],[43.4,97.6],[48.4,97.6],[56.2,97.6],[61.8,97.6],[17.0,99.4],[23.0,99.4],[28.0,99.4],[33.0,99.4],[37.6,99.4],[42.6,99.4],[47.0,99.4],[53.0,99.4],[57.0,99.4],[62.0,99.4]
];
const carbonatePoints = [
[2.9,0.2],[5.3,0.9],[7.8,0.2],[10.2,1.5],[12.6,1.5],[15.0,1.8],[17.4,3.0],[19.8,4.0],[21.0,5.2],[20.4,7.0],[19.2,8.3],[17.4,9.5],[15.0,8.9],[12.6,8.3],[10.2,7.0],[7.8,6.4],[5.3,5.2],[2.9,4.0],[4.1,2.1],[6.5,2.7],[9.0,4.0],[11.4,4.6],[13.8,5.2],[16.2,5.8],[17.4,4.6],[15.0,6.4],[11.4,8.9],[9.0,10.7],[6.5,10.1],[4.1,11.4],[2.9,13.2],[5.3,13.8],[7.8,13.2],[10.2,14.4],[12.6,16.9],[10.2,18.8],[7.8,16.9],[5.3,15.7],[2.9,16.9],[4.1,19.4],[6.5,21.2],[9.0,21.8],[11.4,22.5],[13.8,20.6],[6.5,23.7],[2.9,23.1],[19.8,10.7],[17.4,12.0],[15.0,14.4],[21.0,13.8],[18.6,15.1],[22.2,15.7],[23.5,19.4],[25.3,22.5],[21.0,18.4],[13.8,11.7],[16.2,10.7],[6.5,12.0],[1.7,7.0],[22.2,3.3],[1.7,2.1],
[1.7,25.4],[4.1,26.0],[7.8,26.7],[11.4,27.3],[15.0,27.0],[18.6,27.9],[22.2,28.5],[25.9,27.3],[28.3,25.1],[2.9,28.5],[6.5,29.1],[10.2,29.7],[13.8,30.4],[17.4,29.7],[21.0,30.4],[24.7,30.4],[1.7,31.6],[5.3,32.2],[9.0,31.6],[12.6,32.2],[16.2,32.8],[19.8,32.8],[23.5,33.4],[27.1,34.1],[2.9,34.7],[6.5,35.3],[10.2,34.7],[13.8,34.1],[17.4,35.3],[21.0,35.9],[24.7,36.5],[28.3,35.9],[4.1,38.4],[7.8,37.8],[11.4,37.1],[15.0,38.4],[18.6,39.0],[22.2,38.4],[1.7,40.2],[5.3,40.8],[9.0,40.2],[12.6,39.6],[16.2,40.8],[19.8,41.5],[23.5,40.8],[2.9,43.3],[6.5,42.7],[10.2,42.1],[13.8,42.7],[17.4,43.9],[21.0,44.5],[24.7,43.3],[4.1,44.5],[7.8,45.2],[12.6,45.8],[16.2,46.4],[21.0,46.4],[1.7,47.6],[5.3,47.0],[11.4,48.2],[15.0,49.2],[18.6,48.9],[2.9,49.2],
[2.9,51.2],[6.5,50.6],[11.4,51.9],[16.2,51.2],[21.0,50.6],[25.9,51.9],[23.5,54.3],[18.6,53.7],[13.8,54.3],[9.0,53.7],[4.1,54.9],[1.7,56.8],[6.5,56.8],[11.4,57.4],[16.2,58.0],[21.0,57.4],[25.9,56.8],[28.3,55.6],[4.1,59.3],[9.0,59.9],[13.8,59.9],[18.6,60.5],[23.5,61.1],[27.1,59.9],[1.7,61.7],[6.5,62.3],[11.4,62.3],[16.2,63.0],[21.0,63.6],[25.9,64.2],[29.5,64.8],[4.1,64.8],[9.0,64.2],[13.8,64.8],[18.6,66.0],[23.5,65.4],[2.9,67.3],[7.8,67.9],[12.6,67.3],[17.4,66.7],[22.2,67.9],[27.1,68.5],[1.7,69.7],[6.5,69.7],[11.4,69.7],[16.2,68.5],[21.0,70.4],[4.1,72.8],[9.0,72.2],[15.0,73.4],[19.8,74.1],[24.7,71.0],
[1.7,75.8],[6.5,76.4],[11.4,75.8],[16.2,77.1],[21.0,76.4],[25.9,75.8],[29.5,77.7],[4.1,78.9],[9.0,79.5],[13.8,78.9],[18.6,80.1],[23.5,80.8],[28.3,81.4],[2.9,82.0],[7.8,82.6],[12.6,82.0],[17.4,83.2],[22.2,84.5],[27.1,83.8],[5.3,85.1],[10.2,85.7],[15.0,86.3],[19.8,86.9],[24.7,87.5],[4.1,88.2],[9.0,88.8],[13.8,89.4],[18.6,90.0],[23.5,90.6],[2.9,90.6],[7.8,91.9],[12.6,92.5],[17.4,93.1],[22.2,93.7],[27.1,94.3],[5.3,94.3],[10.2,94.9],[15.0,95.6],[19.8,96.2],[24.7,96.8],[6.5,97.4],[11.4,98.0],[16.2,98.6],[21.0,99.3],[28.3,92.5],[25.9,89.4],
[1.0,1.0],[8.5,1.0],[14,1.0],[19,1.0],[3.5,3.5],[12.5,3.5],[20.5,3.5],[1.2,6.0],[6,6.0],[11,6.0],[17.5,6.0],[22.5,6.0],[4.5,8.0],[8.0,8.0],[14.0,8.0],[21.5,8.0],[1.5,10.0],[12.0,10.0],[18.5,10.0],[3.6,12.5],[9.6,12.5],[12.2,12.5],[19.5,12.5],[1.0,15.0],[8.4,15.0],[14.6,15.0],[23.8,15.0],[4.6,17.5],[9.4,17.5],[16.0,17.5],[19.6,17.5],[1.8,19.8],[7.0,19.8],[12.0,19.8],[17.8,19.8],[4.8,22.0],[14.8,22.0],[18.4,22.0],[23.0,22.0],[1.2,24.0],[9.0,24.0],[13.4,24.0],[20.8,24.0],
[6.2,26.0],[16.8,26.0],[20.2,26.0],[24.0,26.0],[4.2,28.0],[8.4,28.0],[13.0,28.0],[27.0,28.0],[1.0,29.8],[7.6,29.8],[15.6,29.8],[19.2,29.8],[26.0,29.8],[3.4,31.5],[11.0,31.5],[22.0,31.5],[1.0,33.3],[7.6,33.3],[14.4,33.3],[18.0,33.3],[25.6,33.3],[4.6,35.0],[8.6,35.0],[12.0,35.0],[19.8,35.0],[23.0,35.0],[2.0,36.8],[6.0,36.8],[16.0,36.8],[26.6,36.8],[9.6,38.4],[13.4,38.4],[20.2,38.4],[24.0,38.4],[3.2,40.0],[7.2,40.0],[14.4,40.0],[21.8,40.0],[1.4,41.8],[11.0,41.8],[17.8,41.8],[25.6,41.8],[5.0,43.6],[8.6,43.6],[15.6,43.6],[20.0,43.6],[1.6,45.2],[10.2,45.2],[14.0,45.2],[18.4,45.2],[23.4,45.2],[3.6,47.0],[8.0,47.0],[13.8,47.0],[19.4,47.0],[6.8,48.8],[9.8,48.8],[17.0,48.8],[22.4,48.8],
[1.0,50.4],[4.6,50.4],[9.2,50.4],[13.8,50.4],[19.0,50.4],[24.0,50.4],[3.0,52.4],[7.6,52.4],[12.6,52.4],[17.8,52.4],[22.0,52.4],[27.0,52.4],[1.0,54.4],[6.4,54.4],[11.4,54.4],[16.0,54.4],[20.8,54.4],[25.6,54.4],[3.6,56.0],[8.6,56.0],[13.4,56.0],[18.6,56.0],[23.0,56.0],[1.4,58.0],[6.4,58.0],[11.0,58.0],[19.0,58.0],[24.6,58.0],[2.2,60.0],[16.4,60.0],[20.8,60.0],[25.4,60.0],[4.2,61.8],[8.8,61.8],[14.2,61.8],[18.8,61.8],[22.4,61.8],[2.6,63.4],[7.4,63.4],[12.2,63.4],[23.4,63.4],[27.8,63.4],[6.2,65.2],[11.0,65.2],[15.6,65.2],[21.2,65.2],[1.0,67.0],[5.0,67.0],[9.8,67.0],[14.4,67.0],[19.8,67.0],[24.4,67.0],[3.4,68.8],[8.6,68.8],[13.0,68.8],[18.0,68.8],[22.8,68.8],[4.2,70.6],[9.0,70.6],[14.6,70.6],[17.0,70.6],[26.0,70.6],[1.6,72.4],[6.8,72.4],[11.6,72.4],[17.4,72.4],[22.2,72.4],[3.2,74.0],[8.4,74.0],[12.6,74.0],[17.0,74.0],[23.2,74.0],
[3.6,76.8],[8.6,76.8],[13.8,76.8],[18.8,76.8],[23.6,76.8],[1.4,78.2],[6.4,78.2],[11.0,78.2],[16.6,78.2],[21.4,78.2],[26.6,78.2],[4.0,80.8],[9.6,80.8],[15.0,80.8],[20.6,80.8],[5.2,82.8],[10.0,82.8],[14.8,82.8],[19.8,82.8],[24.6,82.8],[2.4,84.4],[7.6,84.4],[12.8,84.4],[17.6,84.4],[25.0,84.4],[1.2,86.0],[7.2,86.0],[12.4,86.0],[17.2,86.0],[22.0,86.0],[2.4,87.8],[6.6,87.8],[11.4,87.8],[16.2,87.8],[21.0,87.8],[26.8,87.8],[4.6,89.6],[10.0,89.6],[15.8,89.6],[21.0,89.6],[2.0,91.6],[5.4,91.6],[10.4,91.6],[15.0,91.6],[19.6,91.6],[25.0,91.6],[3.8,93.4],[8.6,93.4],[14.2,93.4],[19.8,93.4],[24.6,93.4],[1.8,95.2],[7.4,95.2],[12.4,95.2],[17.6,95.2],[22.2,95.2],[3.8,96.8],[9.0,96.8],[13.8,96.8],[21.4,96.8],[26.0,96.8],[1.6,98.6],[8.6,98.6],[13.4,98.6],[18.6,98.6],[23.4,98.6],[4.4,99.6],[6.0,99.6],[11.0,99.6],[16.0,99.6]
];
// Linear trend lines: strength (kPa) at depth 0 and 100 m
const trendDepth = [0, 100];
const acmTrend = [0, 198];
const deepSeaTrend = [0, 66.4];
const carbonateTrend = [0, 20];
const xTicksA = [0, 25, 50, 75, 100, 125, 150, 175, 200];
const yTicksA = [0, 20, 40, 60, 80, 100];

// ---------- Panel (b): box plot summaries ----------
const categories = ["Active Continental Margin", "Deep sea", "Carbonate platform"];
const boxFill = ["#ff0000", "#0000ff", "#00ffff"];
const whiskerLow = [0, 0.3, 0.3];
const q1 = [35.1, 11.9, 7.8];
const median = [64.3, 23.0, 12.2];
const q3 = [95.6, 36.2, 18.0];
const whiskerHigh = [184.4, 71.2, 33.1];
const acmOutliers = [199.5, 198.5, 197.6, 195.4, 194.1, 193.4, 192.8, 189.0, 187.7, 186.4];
const deepSeaOutliers = [94.3, 81.0, 80.0, 79.0, 77.8, 76.5, 75.3, 74.2, 73.2, 72.4];
const carbonateOutliers = [39.6, 38.8, 38.0, 36.8, 35.5, 34.4, 33.6];
const yTicksB = [0, 25, 50, 75, 100, 125, 150, 175, 200];

const FONT = '"DejaVu Sans Condensed","DejaVu Sans",sans-serif';

const toObj = (arr, s) => arr.map(([x, y]) => ({x, y, s}));
const trendRows = (vals, s) => vals.map((x, i) => ({x, y: trendDepth[i], s}));

const dotStyle = {r: 3.5, stroke: "#000", strokeWidth: 0.8, clip: true};

const plotA = Plot.plot({
  width: 660, height: 627,
  marginLeft: 80, marginRight: 28, marginTop: 59, marginBottom: 27,
  style: {fontFamily: FONT, fontSize: "17px", color: "#000", background: "transparent", overflow: "visible"},
  x: {domain: [0, 200]},
  y: {domain: [0, 100], reverse: true},
  marks: [
    Plot.dot(toObj(acmPoints, "a"), {x: "x", y: "y", fill: "#c93430", ...dotStyle}),
    Plot.dot(toObj(deepSeaPoints, "d"), {x: "x", y: "y", fill: "#1e1e9e", ...dotStyle}),
    Plot.dot(toObj(carbonatePoints, "c"), {x: "x", y: "y", fill: "#7fe3d8", ...dotStyle}),
    Plot.line(trendRows(acmTrend, "a"), {x: "x", y: "y", stroke: "#d40f0f", strokeWidth: 3}),
    Plot.line(trendRows(deepSeaTrend, "d"), {x: "x", y: "y", stroke: "#1f1fd0", strokeWidth: 3}),
    Plot.line(trendRows(carbonateTrend, "c"), {x: "x", y: "y", stroke: "#2de6e6", strokeWidth: 3}),
    Plot.axisX({anchor: "top", ticks: xTicksA, tickSize: 5, tickPadding: 3, label: null, fontSize: 17}),
    Plot.axisY({ticks: yTicksA, tickSize: 5, tickPadding: 3, label: null, fontSize: 17}),
    Plot.frame({stroke: "#000", strokeWidth: 2})
  ]
});
document.getElementById("pa").appendChild(plotA);

const boxes = categories.map((c, i) => ({c, fill: boxFill[i], lo: whiskerLow[i], q1: q1[i], med: median[i], q3: q3[i], hi: whiskerHigh[i]}));
const outliers = [
  ...acmOutliers.map(v => ({c: categories[0], v, fill: "#e32222"})),
  ...deepSeaOutliers.map(v => ({c: categories[1], v, fill: "#1414c4"})),
  ...carbonateOutliers.map(v => ({c: categories[2], v, fill: "#3fe6e6"}))
];

const plotB = Plot.plot({
  width: 677, height: 627,
  marginLeft: 82, marginRight: 38, marginTop: 59, marginBottom: 27,
  style: {fontFamily: FONT, fontSize: "17px", color: "#000", background: "transparent", overflow: "visible"},
  x: {type: "band", domain: categories, paddingInner: 0.702, paddingOuter: 0.1875},
  y: {domain: [-10.1, 200.6]},
  marks: [
    Plot.ruleX(boxes, {x: "c", y1: "lo", y2: "q1", stroke: "#000", strokeWidth: 1.3}),
    Plot.ruleX(boxes, {x: "c", y1: "q3", y2: "hi", stroke: "#000", strokeWidth: 1.3}),
    Plot.tickY(boxes, {x: "c", y: "lo", stroke: "#000", strokeWidth: 1.3, insetLeft: 15, insetRight: 15}),
    Plot.tickY(boxes, {x: "c", y: "hi", stroke: "#000", strokeWidth: 1.3, insetLeft: 15, insetRight: 15}),
    Plot.barY(boxes, {x: "c", y1: "q1", y2: "q3", fill: "fill", stroke: "#000", strokeWidth: 1.3}),
    Plot.tickY(boxes, {x: "c", y: "med", stroke: "#000", strokeWidth: 1.3}),
    Plot.dot(outliers, {x: "c", y: "v", r: 4, fill: "fill", stroke: "#222", strokeWidth: 0.8}),
    Plot.axisY({ticks: yTicksB, tickSize: 5, tickPadding: 3, label: null, fontSize: 17}),
    Plot.axisX({tickSize: 5, tickPadding: 3, label: null, fontSize: 17, fontWeight: "bold"}),
    Plot.frame({stroke: "#000", strokeWidth: 2})
  ]
});
document.getElementById("pb").appendChild(plotB);
</script>
</body>
</html>
